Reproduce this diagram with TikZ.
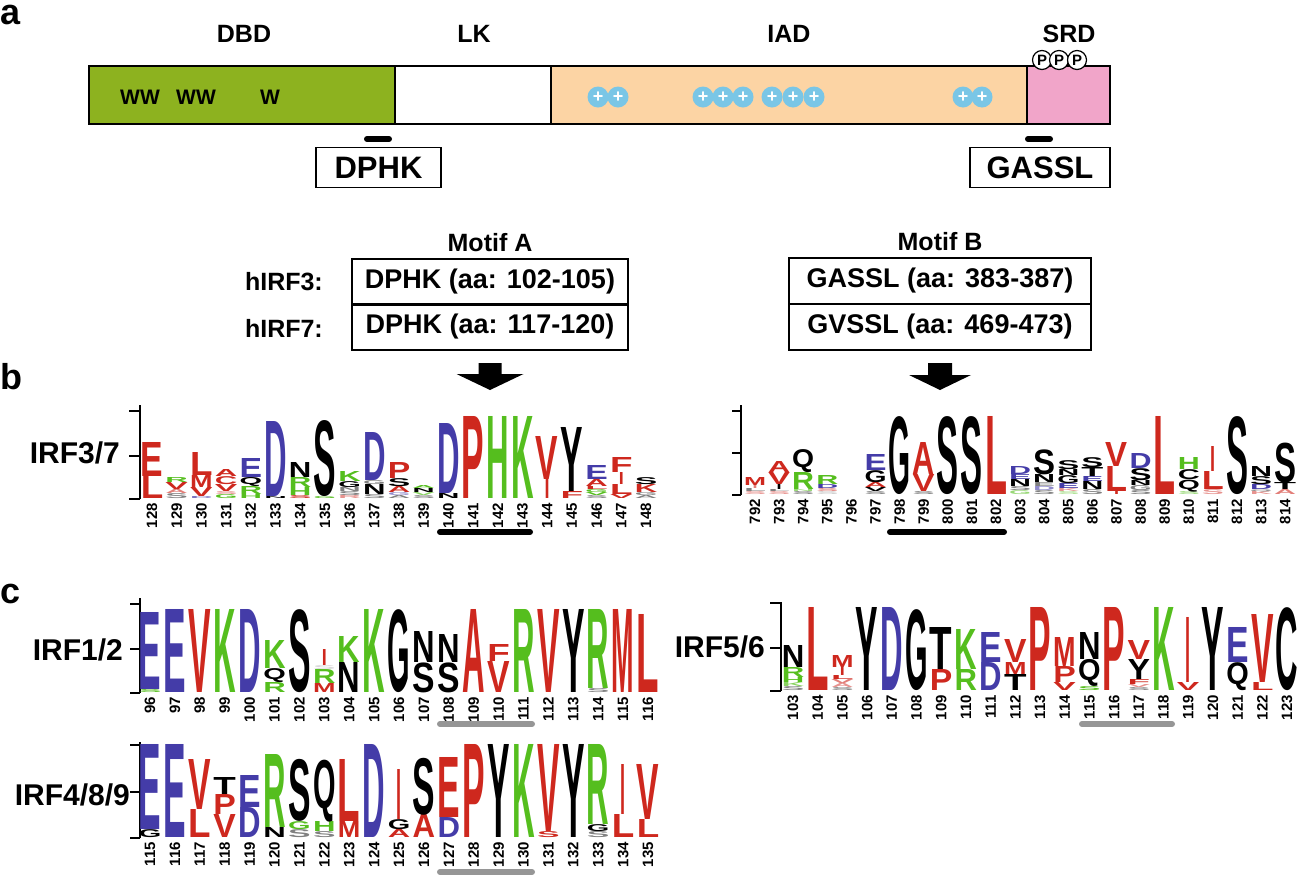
\documentclass[tikz,border=0pt]{standalone}
\usepackage{fontspec}
\setmainfont{Liberation Sans}
\usepackage{graphicx}
\usetikzlibrary{positioning}
\definecolor{dbdgreen}{RGB}{141,178,31}
\definecolor{iadpeach}{RGB}{252,212,164}
\definecolor{srdpink}{RGB}{241,165,201}
\definecolor{plusblue}{RGB}{122,198,230}
\definecolor{lr}{RGB}{206,40,30}
\definecolor{lb}{RGB}{68,60,168}
\definecolor{lgn}{RGB}{85,190,30}
\definecolor{ugrey}{RGB}{150,150,150}

\newcommand{\bsize}[1]{\fontsize{#1}{#1}\selectfont\bfseries}
% one column of a sequence logo, letters given bottom to top
\newcounter{lgc}
\newcommand{\logocol}[3]{%
  \xdef\lgy{#2}%
  \foreach \lgL/\lgC/\lgH in {#3}{%
    \stepcounter{lgc}%
    \edef\tmpa{\lgL}\def\tmpI{I}%
    \ifx\tmpa\tmpI \def\lgW{5}\else \edef\lgW{\lw}\fi
    \node[lgl, text=\lgC] (lg\arabic{lgc}) at (#1,\lgy) {\resizebox*{\lgW pt}{\lgH pt}{\lgL}};
    \pgfmathsetmacro\lgnext{\lgy-\lgH}%
    \xdef\lgy{\lgnext}%
  }%
}
\newcommand{\lcol}[2]{\logocol{\lx+\ldx*#1}{\lbase}{#2}}

\begin{document}
\begin{tikzpicture}[x=1pt,y=-1pt]
    \tikzset{%
      panel/.style={anchor=base west, inner sep=0pt, font=\bsize{36}},
      domlab/.style={inner sep=0pt, font=\bsize{25}},
      dom/.style={draw, line width=1.6pt, minimum height=58pt, inner sep=0pt},
      plus/.style={circle, fill=plusblue, text=white, minimum size=21pt,
        inner sep=0pt, font=\bsize{18}},
      phos/.style={circle, draw, fill=white, line width=1.2pt, minimum
        size=19pt, inner sep=0pt, font=\bsize{15}},
      motifbox/.style={draw, line width=1.8pt, minimum height=40pt, inner
        sep=0pt, font=\bsize{31}},
      rowbox/.style={draw, line width=1.6pt, minimum height=46pt, inner
        sep=0pt, font=\bsize{27}},
      rowlab/.style={anchor=east, inner sep=0pt, font=\bsize{25}},
      irflab/.style={anchor=east, inner sep=0pt, font=\bsize{30}},
      lgl/.style={anchor=south, inner sep=0pt, font=\bsize{20}},
      poslab/.style={rotate=90, anchor=east, inner sep=0pt, font=\bsize{15}},
      axisline/.style={line width=1.6pt},
      bar/.style={line width=6pt, line cap=round},
    }
    \useasboundingbox (0,0) rectangle (1298,876);

    % panel a
    \node[panel] (pa) at (0,24) {a};
    \node[dom, fill=dbdgreen, minimum width=306pt] (dbd) at (242,95) {};
    \node[dom, fill=white, minimum width=156pt] (lk) at (473,95) {};
    \node[dom, fill=iadpeach, minimum width=476pt] (iad) at (789,95) {};
    \node[dom, fill=srdpink, minimum width=83pt] (srd) at (1068.5,95) {};
    \node[domlab] (tdbd) at (244,34) {DBD};
    \node[domlab] (tlk) at (474,34) {LK};
    \node[domlab] (tiad) at (789,34) {IAD};
    \node[domlab] (tsrd) at (1069,34) {SRD};
    \node[domlab, font=\bsize{21}] (w1) at (140,97) {WW};
    \node[domlab, font=\bsize{21}] (w2) at (196,97) {WW};
    \node[domlab, font=\bsize{21}] (w3) at (270,97) {W};
    \foreach \x [count=\i] in {598,618,703,723,743,772,793,814,963,982}
      \node[plus] (pl\i) at (\x,97) {+};
    \foreach \x [count=\i] in {1042,1059,1077}
      \node[phos] (ph\i) at (\x,60) {P};
    \coordinate (mA1) at (367,139);
    \coordinate (mA2) at (389,139);
    \coordinate (mB1) at (1028,139);
    \coordinate (mB2) at (1050,139);
    \draw[bar] (mA1) -- (mA2);
    \draw[bar] (mB1) -- (mB2);
    \node[motifbox, minimum width=125pt] (dphk) at (378.5,167.5) {DPHK};
    \node[motifbox, minimum width=140pt] (gassl) at (1040,167.5) {GASSL};

    % motif tables
    \node[domlab] (mta) at (490,243) {Motif A};
    \node[rowbox, minimum width=276pt] (rA1) at (490,282) {DPHK (aa: 102-105)};
    \node[rowbox, minimum width=276pt] (rA2) at (490,327) {DPHK (aa: 117-120)};
    \node[rowlab] (h3) at (323,282) {hIRF3:};
    \node[rowlab] (h7) at (323,328) {hIRF7:};
    \node[domlab] (mtb) at (940,242) {Motif B};
    \node[rowbox, minimum width=302pt] (rB1) at (940,281) {GASSL (aa: 383-387)};
    \node[rowbox, minimum width=302pt] (rB2) at (940,327) {GVSSL (aa: 469-473)};
    \coordinate (arA) at (490,363);
    \coordinate (arB) at (940,363);
    \fill ([xshift=-11.5pt]arA) -- ++(23,0) -- ++(0,11) -- ++(22,0)
      -- ++(-33.5,16) -- ++(-33.5,-16) -- ++(22,0) -- cycle;
    \fill ([xshift=-12pt]arB) -- ++(24,0) -- ++(0,12) -- ++(19,0)
      -- ++(-31,15) -- ++(-31,-15) -- ++(19,0) -- cycle;

    % panel b, IRF3/7
    \node[panel] (pb) at (0,389) {b};
    \node[irflab] (l37) at (120,453) {IRF3/7};
    \draw[axisline] (140,405) -- (140,499);
    \foreach \t in {411,456,499} \draw[axisline] (140,\t) -- (129,\t);
    \def\lx{152}\def\ldx{24.7}\def\lbase{499}\def\lw{22.5}
    \lcol{0}{L/lr/22, E/lr/34}
    \lcol{1}{S/gray/5, A/lr!60/4, V/lr/7, R/lgn/5}
    \lcol{2}{D/lb!70/2, V/lr/9, M/lr/12, L/lr/23}
    \lcol{3}{G/lgn/4, S/lr!50/3, V/lr/7, C/lr/8, A/lr/7}
    \lcol{4}{H/lgn/4, R/lgn/8, Q/black/9, E/lb/19}
    \lcol{5}{N/black/2, D/lb/75}
    \lcol{6}{S/lr/3, H/lgn/8, R/lgn/10, N/black/15}
    \lcol{7}{G/lgn/2, S/black/76}
    \lcol{8}{R/lr!50/3, S/gray/4, N/gray/4, G/black/6, K/lgn/10}
    \lcol{9}{S/gray/4, N/black/10, G/gray/4, D/lb/48}
    \lcol{10}{A/gray/3, G/lb!60/3, A/lr/6, S/black/8, P/lr/16}
    \lcol{11}{S/gray/3, V/lgn!70/3, N/black/4, A/lgn/3}
    \lcol{12}{N/black/5, D/lb/70}
    \lcol{13}{P/lr/82}
    \lcol{14}{H/lgn/82}
    \lcol{15}{K/lgn/82}
    \lcol{16}{I/lr/19, V/lr/43}
    \lcol{17}{F/lr/7, Y/black/64}
    \lcol{18}{S/gray/3, V/lgn/3, G/lgn/3, L/lr/3, A/lr/7, E/lb/14}
    \lcol{19}{V/lr/4, L/lr/10, I/lr/12, F/lr/15}
    \lcol{20}{A/gray/3, G/gray/3, K/lr/8, S/black/7}
    \foreach \n [count=\i from 0] in {128,...,148}
      \node[poslab] (nA\i) at (\lx+\ldx*\i,503) {\n};
    \coordinate (uA1) at (440,532);
    \coordinate (uA2) at (530,532);
    \draw[bar] (uA1) -- (uA2);

    % panel b, motif B logo
    \draw[axisline] (741,405) -- (741,495);
    \foreach \t in {411,453,495} \draw[axisline] (741,\t) -- (732,\t);
    \def\lx{755}\def\ldx{24.1}\def\lbase{495}\def\lw{22}
    \lcol{0}{S/lr!50/3, L/gray/3, I/lr!60/3, M/lr/8}
    \lcol{1}{S/lr!50/3, L/gray/2, I/black/5, V/lr/12, A/lr/11}
    \lcol{2}{S/gray/3, N/lgn!60/2, R/lgn/17, Q/black/23}
    \lcol{3}{S/gray!40/3, S/lr!60/3, D/lb/4, R/lgn/9}
    \lcol{5}{S/gray/3, V/black/4, A/lr/5, G/black/12, E/lb/16}
    \lcol{6}{G/black/78}
    \lcol{7}{S/gray/3, V/lr/17, A/lr/32}
    \lcol{8}{S/black/78}
    \lcol{9}{S/black/78}
    \lcol{10}{L/lr/78}
    \lcol{11}{G/lgn!60/4, S/gray/4, N/black/7, E/lb/5, D/lb/8}
    \lcol{12}{S/gray/4, D/lb!60/4, E/gray/4, N/black/8, S/black/25}
    \lcol{13}{S/lgn!50/3, K/lr!50/3, E/lb/5, G/black/8, N/black/6, S/black/9}
    \lcol{14}{S/gray/5, N/black/8, E/lb/5, T/black/9, S/black/10}
    \lcol{15}{I/lr/3, L/lr/25, V/lr/24}
    \lcol{16}{S/gray/4, G/gray/5, N/black/5, S/black/12, D/lb/15}
    \lcol{17}{L/lr/78}
    \lcol{18}{S/lgn!60/3, Q/black/12, C/black/10, H/lgn/12}
    \lcol{19}{S/lr!50/5, L/lr/18, I/lr/25}
    \lcol{20}{S/black/78}
    \lcol{21}{K/lr!50/3, Q/gray/2, D/lb/5, S/black/8, N/black/10}
    \lcol{22}{A/lr!60/5, T/black/7, S/black/40}
    \foreach \n [count=\i from 0] in {792,...,814}
      \node[poslab] (nB\i) at (\lx+\ldx*\i,499) {\n};
    \coordinate (uB1) at (890,532);
    \coordinate (uB2) at (1004,532);
    \draw[bar] (uB1) -- (uB2);

    % panel c, IRF1/2
    \node[panel] (pc) at (0,603) {c};
    \node[irflab] (l12) at (123,650) {IRF1/2};
    \draw[axisline] (140,598) -- (140,693);
    \foreach \t in {604,649,693} \draw[axisline] (140,\t) -- (130,\t);
    \def\lx{150}\def\ldx{24.9}\def\lbase{693}\def\lw{22.5}
    \lcol{0}{S/lgn/3, E/lb/77}
    \lcol{1}{E/lb/83}
    \lcol{2}{V/lr/83}
    \lcol{3}{K/lgn/83}
    \lcol{4}{D/lb/83}
    \lcol{5}{R/lgn/10, Q/black/14, K/lgn/28}
    \lcol{6}{S/black/83}
    \lcol{7}{M/lr/9, R/lgn/14, S/gray!30/4, I/lr/16}
    \lcol{8}{N/black/30, K/lgn/26}
    \lcol{9}{K/lgn/83}
    \lcol{10}{G/black/83}
    \lcol{11}{S/black/30, N/black/31}
    \lcol{12}{S/black/30, N/black/28}
    \lcol{13}{A/lr/83}
    \lcol{14}{V/lr/31, F/lr/17}
    \lcol{15}{R/lgn/83}
    \lcol{16}{V/lr/83}
    \lcol{17}{Y/black/83}
    \lcol{18}{S/gray/4, R/lgn/79}
    \lcol{19}{M/lr/83}
    \lcol{20}{L/lr/78}
    \foreach \n [count=\i from 0] in {96,...,116}
      \node[poslab] (nC\i) at (\lx+\ldx*\i,697) {\n};
    \coordinate (uC1) at (440,724);
    \coordinate (uC2) at (532,724);
    \draw[bar, ugrey] (uC1) -- (uC2);

    % panel c, IRF5/6
    \node[irflab] (l56) at (765,647) {IRF5/6};
    \draw[axisline] (781,602) -- (781,691);
    \foreach \t in {603,648,691} \draw[axisline] (781,\t) -- (770,\t);
    \def\lx{793}\def\ldx{24.7}\def\lbase{691}
    \lcol{0}{S/gray/4, K/lgn!70/4, H/lgn/5, R/lgn/10, N/black/22}
    \lcol{1}{L/lr/83}
    \lcol{2}{S/gray/3, A/lr!50/4, V/lr!60/4, L/lr/4, I/lr/8, M/lr/12}
    \lcol{3}{Y/black/83}
    \lcol{4}{D/lb/83}
    \lcol{5}{G/black/81}
    \lcol{6}{P/lr/21, T/black/42}
    \lcol{7}{R/lgn/21, K/lgn/40}
    \lcol{8}{D/lb/28, E/lb/30}
    \lcol{9}{T/black/16, M/lr/12, V/lr/23}
    \lcol{10}{P/lr/83}
    \lcol{11}{V/lr/8, P/lr/16, M/lr/29}
    \lcol{12}{S/lgn/4, Q/black/27, N/black/27}
    \lcol{13}{P/lr/83}
    \lcol{14}{S/gray/3, V/lr!50/3, F/lr/5, Y/black/20, V/lr/19}
    \lcol{15}{K/lgn/83}
    \lcol{16}{V/lr/8, I/lr/65}
    \lcol{17}{Y/black/83}
    \lcol{18}{Q/black/28, E/lb/35}
    \lcol{19}{L/lr/8, V/lr/68}
    \lcol{20}{C/black/83}
    \foreach \n [count=\i from 0] in {103,...,123}
      \node[poslab] (nD\i) at (\lx+\ldx*\i,695) {\n};
    \coordinate (uD1) at (1082,724);
    \coordinate (uD2) at (1172,724);
    \draw[bar, ugrey] (uD1) -- (uD2);

    % panel c, IRF4/8/9
    \node[irflab] (l489) at (130,795) {IRF4/8/9};
    \draw[axisline] (140,742) -- (140,838);
    \foreach \t in {745,792,838} \draw[axisline] (140,\t) -- (130,\t);
    \def\lx{150}\def\ldx{24.9}\def\lbase{838}
    \lcol{0}{G/black/8, E/lb/85}
    \lcol{1}{E/lb/93}
    \lcol{2}{L/lr/28, V/lr/50}
    \lcol{3}{V/lr/23, P/lr/20, T/black/17}
    \lcol{4}{D/lb/30, E/lb/32}
    \lcol{5}{N/black/10, R/lgn/73}
    \lcol{6}{S/gray/8, G/lgn/8, S/black/62}
    \lcol{7}{S/gray/6, H/lgn/10, Q/black/62}
    \lcol{8}{M/lr/16, L/lr/62}
    \lcol{9}{D/lb/93}
    \lcol{10}{A/lr/8, G/black/10, I/lr/50}
    \lcol{11}{A/lr/23, S/black/57}
    \lcol{12}{D/lb/20, E/lr/60}
    \lcol{13}{P/lr/93}
    \lcol{14}{Y/black/93}
    \lcol{15}{K/lgn/93}
    \lcol{16}{S/lr/6, V/lr/87}
    \lcol{17}{Y/black/93}
    \lcol{18}{S/gray/6, G/black/7, R/lgn/80}
    \lcol{19}{L/lr/23, I/lr/50}
    \lcol{20}{L/lr/18, V/lr/55}
    \foreach \n [count=\i from 0] in {115,...,135}
      \node[poslab] (nE\i) at (\lx+\ldx*\i,842) {\n};
    \coordinate (uE1) at (440,872);
    \coordinate (uE2) at (532,872);
    \draw[bar, ugrey] (uE1) -- (uE2);
\end{tikzpicture}
\end{document}
